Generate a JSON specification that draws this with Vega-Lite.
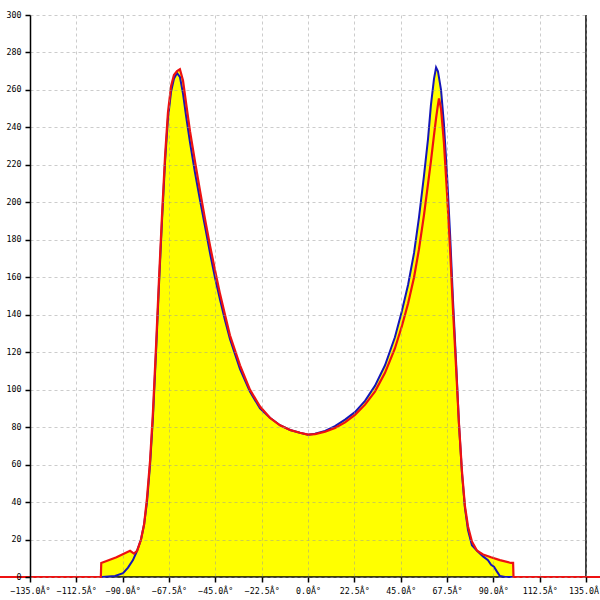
{
  "$schema": "https://vega.github.io/schema/vega-lite/v6.json",
  "width": 556,
  "height": 562,
  "autosize": {"type": "none"},
  "padding": {"left": 30, "top": 15, "right": 14, "bottom": 23},
  "background": "white",
  "config": {"view": {"stroke": null}},
  "datasets": {
    "blue": [
      {"a": -100.0, "v": 0}, {"a": -93.7, "v": 0.5}, {"a": -89.8, "v": 2}, {"a": -87.4, "v": 5},
      {"a": -85.0, "v": 9}, {"a": -83.0, "v": 14}, {"a": -81.1, "v": 20}, {"a": -79.6, "v": 28},
      {"a": -78.2, "v": 40}, {"a": -76.7, "v": 60}, {"a": -75.3, "v": 85}, {"a": -73.8, "v": 120},
      {"a": -72.4, "v": 155}, {"a": -70.9, "v": 190}, {"a": -69.4, "v": 222}, {"a": -68.0, "v": 245},
      {"a": -66.5, "v": 259}, {"a": -65.1, "v": 266}, {"a": -63.6, "v": 269}, {"a": -62.2, "v": 267},
      {"a": -60.7, "v": 258}, {"a": -59.2, "v": 246}, {"a": -57.3, "v": 232}, {"a": -54.9, "v": 216},
      {"a": -52.4, "v": 201}, {"a": -50.0, "v": 187}, {"a": -47.6, "v": 173}, {"a": -45.2, "v": 160},
      {"a": -42.7, "v": 148}, {"a": -40.3, "v": 137}, {"a": -37.9, "v": 127}, {"a": -33.0, "v": 111},
      {"a": -28.2, "v": 99}, {"a": -23.3, "v": 90}, {"a": -18.5, "v": 85}, {"a": -13.6, "v": 81},
      {"a": -8.7, "v": 78.5}, {"a": -3.9, "v": 77}, {"a": 0, "v": 76},
      {"a": 3.4, "v": 76.5}, {"a": 8.3, "v": 78}, {"a": 13.1, "v": 80.5}, {"a": 18.0, "v": 84},
      {"a": 22.8, "v": 88}, {"a": 27.7, "v": 94}, {"a": 32.5, "v": 102}, {"a": 37.4, "v": 113},
      {"a": 42.2, "v": 128}, {"a": 45.6, "v": 142}, {"a": 48.6, "v": 156}, {"a": 51.5, "v": 173},
      {"a": 53.9, "v": 192}, {"a": 56.3, "v": 214}, {"a": 58.3, "v": 234}, {"a": 59.7, "v": 252},
      {"a": 61.2, "v": 266}, {"a": 62.2, "v": 272}, {"a": 63.1, "v": 270}, {"a": 64.6, "v": 260},
      {"a": 66.0, "v": 242}, {"a": 67.5, "v": 215}, {"a": 69.0, "v": 183}, {"a": 70.4, "v": 148},
      {"a": 71.9, "v": 115}, {"a": 73.3, "v": 82}, {"a": 74.8, "v": 55}, {"a": 76.2, "v": 37},
      {"a": 77.7, "v": 25}, {"a": 79.6, "v": 17}, {"a": 82.1, "v": 14}, {"a": 85.0, "v": 11},
      {"a": 87.4, "v": 9}, {"a": 88.9, "v": 6.5}, {"a": 90.3, "v": 5.5}, {"a": 91.7, "v": 3},
      {"a": 93.2, "v": 0.5}, {"a": 95.7, "v": 0}, {"a": 100.5, "v": 0}
    ],
    "red": [
      {"a": -150, "v": 0}, {"a": -100.6, "v": 0}, {"a": -100.4, "v": 7.5}, {"a": -93, "v": 10.5},
      {"a": -86.4, "v": 14}, {"a": -84.5, "v": 12.5}, {"a": -83.0, "v": 14}, {"a": -81.1, "v": 20},
      {"a": -79.6, "v": 28}, {"a": -78.2, "v": 42}, {"a": -76.7, "v": 62}, {"a": -75.3, "v": 88},
      {"a": -73.8, "v": 123}, {"a": -72.4, "v": 158}, {"a": -70.9, "v": 193}, {"a": -69.4, "v": 225},
      {"a": -68.0, "v": 248}, {"a": -66.5, "v": 262}, {"a": -65.1, "v": 268}, {"a": -63.6, "v": 270},
      {"a": -62.2, "v": 271}, {"a": -60.7, "v": 265}, {"a": -59.2, "v": 253}, {"a": -57.3, "v": 238},
      {"a": -54.9, "v": 222}, {"a": -52.4, "v": 206}, {"a": -50.0, "v": 191}, {"a": -47.6, "v": 177},
      {"a": -45.2, "v": 164}, {"a": -42.7, "v": 151}, {"a": -40.3, "v": 140}, {"a": -37.9, "v": 129},
      {"a": -33.0, "v": 113}, {"a": -28.2, "v": 100}, {"a": -23.3, "v": 91}, {"a": -18.5, "v": 85},
      {"a": -13.6, "v": 81}, {"a": -8.7, "v": 78.5}, {"a": -3.9, "v": 77}, {"a": 0, "v": 76},
      {"a": 3.4, "v": 76.3}, {"a": 8.3, "v": 77.5}, {"a": 13.1, "v": 79.5}, {"a": 18.0, "v": 82.5},
      {"a": 22.8, "v": 86.5}, {"a": 27.7, "v": 92}, {"a": 32.5, "v": 99}, {"a": 37.4, "v": 109},
      {"a": 42.2, "v": 122}, {"a": 45.6, "v": 134}, {"a": 48.6, "v": 146}, {"a": 51.5, "v": 160},
      {"a": 53.9, "v": 175}, {"a": 56.3, "v": 193}, {"a": 58.3, "v": 210}, {"a": 59.7, "v": 222},
      {"a": 61.2, "v": 236}, {"a": 62.2, "v": 245}, {"a": 63.1, "v": 252}, {"a": 63.6, "v": 255.5},
      {"a": 64.6, "v": 250}, {"a": 66.0, "v": 232}, {"a": 67.5, "v": 205}, {"a": 69.0, "v": 175},
      {"a": 70.4, "v": 143}, {"a": 71.9, "v": 112}, {"a": 73.3, "v": 82}, {"a": 74.8, "v": 56},
      {"a": 76.2, "v": 38}, {"a": 77.7, "v": 27}, {"a": 79.6, "v": 19}, {"a": 82.1, "v": 14},
      {"a": 85.0, "v": 12}, {"a": 88.9, "v": 10.5}, {"a": 93.2, "v": 9}, {"a": 98.5, "v": 7.5},
      {"a": 99.6, "v": 7.5}, {"a": 99.8, "v": 0}, {"a": 142, "v": 0}
    ],
    "fill": [
      {"a": -100.6, "v": 0}, {"a": -100.4, "v": 7.5}, {"a": -93, "v": 10.5}, {"a": -86.4, "v": 14},
      {"a": -84.5, "v": 12.5}, {"a": -83.0, "v": 14}, {"a": -81.1, "v": 20}, {"a": -79.6, "v": 28},
      {"a": -78.2, "v": 42}, {"a": -76.7, "v": 62}, {"a": -75.3, "v": 88}, {"a": -73.8, "v": 123},
      {"a": -72.4, "v": 158}, {"a": -70.9, "v": 193}, {"a": -69.4, "v": 225}, {"a": -68.0, "v": 248},
      {"a": -66.5, "v": 262}, {"a": -65.1, "v": 268}, {"a": -63.6, "v": 270}, {"a": -62.2, "v": 271},
      {"a": -60.7, "v": 265}, {"a": -59.2, "v": 253}, {"a": -57.3, "v": 238}, {"a": -54.9, "v": 222},
      {"a": -52.4, "v": 206}, {"a": -50.0, "v": 191}, {"a": -47.6, "v": 177}, {"a": -45.2, "v": 164},
      {"a": -42.7, "v": 151}, {"a": -40.3, "v": 140}, {"a": -37.9, "v": 129}, {"a": -33.0, "v": 113},
      {"a": -28.2, "v": 100}, {"a": -23.3, "v": 91}, {"a": -18.5, "v": 85}, {"a": -13.6, "v": 81},
      {"a": -8.7, "v": 78.5}, {"a": -3.9, "v": 77}, {"a": 0, "v": 76},
      {"a": 3.4, "v": 76.5}, {"a": 8.3, "v": 78}, {"a": 13.1, "v": 80.5}, {"a": 18.0, "v": 84},
      {"a": 22.8, "v": 88}, {"a": 27.7, "v": 94}, {"a": 32.5, "v": 102}, {"a": 37.4, "v": 113},
      {"a": 42.2, "v": 128}, {"a": 45.6, "v": 142}, {"a": 48.6, "v": 156}, {"a": 51.5, "v": 173},
      {"a": 53.9, "v": 192}, {"a": 56.3, "v": 214}, {"a": 58.3, "v": 234}, {"a": 59.7, "v": 252},
      {"a": 61.2, "v": 266}, {"a": 62.2, "v": 272}, {"a": 63.1, "v": 270}, {"a": 64.6, "v": 260},
      {"a": 66.0, "v": 242}, {"a": 67.5, "v": 215}, {"a": 69.0, "v": 183}, {"a": 70.4, "v": 148},
      {"a": 71.9, "v": 115}, {"a": 73.3, "v": 82}, {"a": 74.8, "v": 56}, {"a": 76.2, "v": 38},
      {"a": 77.7, "v": 27}, {"a": 79.6, "v": 19}, {"a": 82.1, "v": 14}, {"a": 85.0, "v": 12},
      {"a": 88.9, "v": 10.5}, {"a": 93.2, "v": 9}, {"a": 98.5, "v": 7.5}, {"a": 99.6, "v": 7.5},
      {"a": 99.8, "v": 0}
    ],
    "frame": [{"x0": -135, "x1": 135, "y0": 0, "y1": 300}]
  },
  "encoding": {
    "x": {
      "field": "a", "type": "quantitative",
      "scale": {"domain": [-135, 135], "nice": false, "zero": false},
      "axis": {
        "title": null,
        "values": [-135, -112.5, -90, -67.5, -45, -22.5, 0, 22.5, 45, 67.5, 90, 112.5, 135],
        "labelExpr": "format(datum.value, '.1f') + 'Â°'",
        "domain": false,
        "tickSize": 5, "tickColor": "black", "tickWidth": 1.5,
        "grid": true, "gridColor": "#999999", "gridOpacity": 0.5, "gridDash": [3, 3],
        "labelFont": "DejaVu Sans Mono", "labelFontSize": 8.3, "labelColor": "black",
        "labelPadding": 4, "labelFlush": false, "labelOverlap": false, "labelBound": false,
        "zindex": 1
      }
    },
    "y": {
      "field": "v", "type": "quantitative",
      "scale": {"domain": [0, 300], "nice": false},
      "axis": {
        "title": null,
        "values": [0, 20, 40, 60, 80, 100, 120, 140, 160, 180, 200, 220, 240, 260, 280, 300],
        "domain": true, "domainColor": "black", "domainWidth": 1.5,
        "tickSize": 5, "tickColor": "black", "tickWidth": 1.5,
        "grid": true, "gridColor": "#999999", "gridOpacity": 0.5, "gridDash": [3, 3],
        "labelFont": "DejaVu Sans Mono", "labelFontSize": 8.3, "labelColor": "black",
        "labelPadding": 4, "labelFlush": false, "labelOverlap": false,
        "zindex": 1
      }
    }
  },
  "layer": [
    {
      "data": {"name": "fill"},
      "mark": {"type": "area", "color": "#ffff00", "opacity": 1}
    },
    {
      "data": {"name": "frame"},
      "mark": {"type": "rule", "color": "black", "strokeWidth": 1.5},
      "encoding": {
        "x": {"field": "x0", "type": "quantitative"},
        "x2": {"field": "x1"},
        "y": {"field": "y0", "type": "quantitative"}
      }
    },
    {
      "data": {"name": "frame"},
      "mark": {"type": "rule", "color": "black", "strokeWidth": 1.5},
      "encoding": {
        "x": {"field": "x1", "type": "quantitative"},
        "y": {"field": "y0", "type": "quantitative"},
        "y2": {"field": "y1"}
      }
    },
    {
      "data": {"name": "blue"},
      "mark": {"type": "line", "color": "#1515b8", "strokeWidth": 2, "clip": false}
    },
    {
      "data": {"name": "red"},
      "mark": {"type": "line", "color": "#ee1111", "strokeWidth": 2.2, "clip": false}
    }
  ]
}
